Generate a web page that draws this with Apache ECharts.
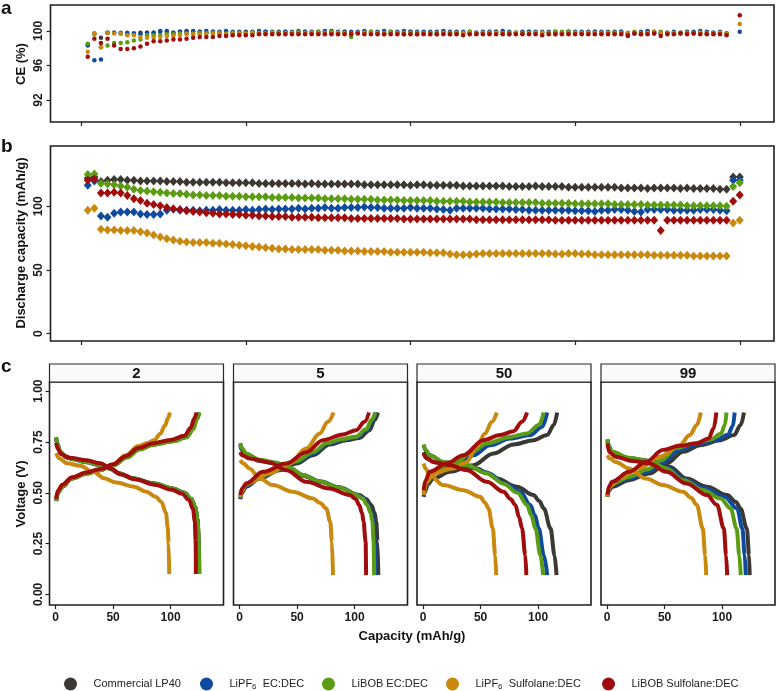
<!DOCTYPE html>
<html><head><meta charset="utf-8">
<script src="https://cdn.jsdelivr.net/npm/echarts@6/dist/echarts.min.js"></script>
<style>html,body{margin:0;padding:0;background:#fff}#c{width:778px;height:691px}</style>
</head><body><div id="c"></div>
<script>
const FONT = '"Liberation Sans", Arial, sans-serif';
const seriesNames = ['Commercial LP40', 'LiPF6 EC:DEC', 'LiBOB EC:DEC', 'LiPF6 Sulfolane:DEC', 'LiBOB Sulfolane:DEC'];
const seriesColors = ['#3b3834', '#0e4a9e', '#5c9c14', '#c9890f', '#a00d0d'];

const cycles = [1,2,3,4,5,6,7,8,9,10,11,12,13,14,15,16,17,18,19,20,21,22,23,24,25,26,27,28,29,30,31,32,33,34,35,36,37,38,39,40,41,42,43,44,45,46,47,48,49,50,51,52,53,54,55,56,57,58,59,60,61,62,63,64,65,66,67,68,69,70,71,72,73,74,75,76,77,78,79,80,81,82,83,84,85,86,87,88,89,90,91,92,93,94,95,96,97,98,99,100];

// Panel a: coulombic efficiency (%)
const ceLP40 = [98.4,99.7,99.2,99.8,99.8,99.7,99.6,99.7,99.8,99.8, 99.8,99.9,99.9,99.8,99.9,100.0,99.9,99.9,99.8,99.9, 99.8,99.9,99.8,99.8,99.9,99.8,99.8,99.9,99.8,99.8, 99.9,99.8,99.8,99.9,99.8,99.8,99.9,99.8,99.7,99.9, 99.8,99.8,99.9,99.8,99.8,99.7,99.8,99.8,99.8,99.9, 99.8,99.8,99.8,99.7,99.9,99.8,99.8,99.8,99.7,99.8, 99.8,99.8,99.9,99.8,99.7,99.8,99.8,99.9,99.8,99.8, 99.8,99.7,99.8,99.9,99.8,99.8,99.8,99.9,99.8,99.8, 99.8,99.9,99.7,99.8,99.8,99.9,99.8,99.7,99.8,99.8, 99.8,99.9,99.8,99.8,99.7,99.8,99.8,99.7,null,null];
const ceLiPF6EC = [98.3,96.6,96.7,99.8,99.8,99.8,99.8,99.7,99.6,99.8, 99.8,100.0,100.0,99.8,99.9,99.9,100.0,99.9,100.0,99.9, 99.9,100.0,99.9,99.9,99.8,99.9,100.0,99.9,99.9,99.9, 99.9,99.9,100.0,99.9,99.9,99.9,100.0,100.0,99.9,99.9, 99.9,99.9,100.0,99.9,99.9,100.0,99.9,99.9,100.0,99.9, 99.9,99.9,99.9,99.9,100.0,99.9,99.9,99.9,99.9,99.8, 99.9,99.9,99.9,100.0,99.9,99.8,99.9,99.9,99.9,99.9, 99.9,99.9,99.8,99.9,99.9,99.9,99.9,99.9,99.9,99.9, 99.9,99.9,99.4,99.7,99.9,100.0,99.9,99.7,99.8,99.9, 99.8,99.8,99.9,100.0,99.9,99.8,99.9,99.7,null,99.9];
const ceLiBOBEC = [98.5,99.6,98.1,98.3,98.6,98.6,98.7,98.9,99.0,99.5, 99.5,99.5,99.6,99.6,99.7,99.7,99.7,99.8,99.7,99.8, 99.8,99.7,99.8,99.8,99.7,99.8,99.8,99.7,99.8,99.8, 99.8,99.8,99.9,99.8,99.8,99.9,99.8,99.9,99.8,99.8, 99.3,99.8,99.8,99.9,99.8,99.8,99.9,99.8,99.8,99.8, 99.8,99.7,99.8,99.8,99.7,99.8,99.8,99.8,99.9,99.7, 99.8,99.8,99.8,99.7,99.8,99.8,99.7,99.8,99.8,99.8, 99.8,99.9,99.9,99.9,99.8,99.8,99.7,99.8,99.8,99.8, 99.8,99.8,99.8,99.9,99.8,99.7,99.7,99.9,99.8,99.8, 99.7,99.8,99.8,99.8,99.7,99.7,99.8,99.7,null,null];
const ceLiPF6Sulf = [97.6,99.7,98.1,99.8,99.7,99.7,99.5,99.5,99.3,99.2, 99.2,99.3,99.4,99.4,99.5,99.6,99.6,99.6,99.7,99.7, 99.7,99.6,99.7,99.7,99.7,99.8,99.7,99.7,99.8,99.7, 99.7,99.8,99.7,99.7,99.8,99.7,99.7,99.7,99.8,99.7, 99.7,99.8,99.8,99.7,99.7,99.6,99.7,99.7,99.6,99.7, 99.6,99.7,99.6,99.6,99.8,99.6,99.7,99.7,99.8,99.7, 99.7,99.7,99.8,99.7,99.6,99.8,99.7,99.7,99.8,99.8, 99.7,99.6,99.7,99.7,99.8,99.7,99.8,99.7,99.7,99.8, 99.7,99.7,99.7,99.8,99.6,99.8,99.9,99.7,99.7,99.7, 99.8,99.7,99.7,99.8,99.7,99.7,99.8,99.7,null,100.8];
const ceLiBOBSulf = [97.0,99.1,98.6,99.1,98.3,97.9,97.9,98.0,98.2,98.5, 98.8,98.8,98.9,99.0,99.0,99.1,99.2,99.3,99.3,99.3, 99.4,99.4,99.5,99.5,99.5,99.5,99.6,99.6,99.6,99.6, 99.6,99.6,99.6,99.6,99.6,99.6,99.6,99.6,99.6,99.6, 99.6,99.7,99.6,99.6,99.6,99.6,99.6,99.6,99.6,99.6, 99.6,99.6,99.6,99.6,99.6,99.6,99.6,99.5,99.6,99.6, 99.6,99.6,99.6,99.6,99.6,99.6,99.6,99.6,99.6,99.5, 99.6,99.6,99.6,99.6,99.6,99.6,99.6,99.6,99.6,99.6, 99.6,99.6,99.5,99.7,99.6,99.6,99.7,99.4,99.6,99.6, 99.7,99.6,99.7,99.6,99.6,99.6,99.6,99.5,null,101.8];

// Panel b: discharge capacity (mAh/g)
const capLP40 = [122,123,119.5,120.5,121,121,120.5,120.5,120,120, 120,120,119.5,119.5,119.5,119,119,119,119,119, 119,118.5,118.5,118.5,118.5,118.5,118,118,118,118, 118,118,118,117.5,118,117.5,117.5,117.5,117.5,117.5, 117.5,117.5,117,117,117,117,117,117,117,116.5, 117,117,116.5,116.5,116.5,116.5,116.5,116,116,116, 116,116,116,116,115.5,115.5,115.5,115.5,116,115.5, 115.5,115.5,115.5,115,115,115,115,115,115,115, 115,114.5,114.5,114.5,114.5,114,114.5,114.5,114.5,114.5, 114,114.5,114,114,114,114,113.5,113.5,123,123];
const capLiPF6EC = [116.5,120,92.5,91.5,94.5,95.5,95.5,95.5,94,93.5, 93.5,94,97,98,97,97,97,96.5,97,97, 97.5,97,97,97,97.5,97,97.5,98,97.5,98, 98,98,98.5,98,98.5,98.5,99,98.5,98.5,99, 99,99,99.5,99,99,98.5,98.5,98.5,98.5,99, 98.5,98.5,98.5,98,97.5,97,98.5,98.5,98.5,98.5, 98.5,98,98,98,98,97.5,97.5,97,97,97, 97,97,97,97,96.5,96.5,96.5,96,97,97, 97.5,97.5,97,96,95.5,97.5,97.5,97.5,97.5,97, 97,97,97,97.5,97.5,97.5,97,96.5,120.5,120.5];
const capLiBOBEC = [125,125.5,118,117.5,117,116,115,113.5,112.5,112, 111.5,111,110.5,110,110,109.5,109,109,108.5,108.5, 108.5,108,108,108,107.5,107.5,107.5,107.5,107,107, 107,107,106.5,106.5,106.5,106.5,106,106,106,106, 105.5,105.5,105.5,105.5,105,105,105,105,104.5,104.5, 104.5,104.5,104.5,104,104,104,104,104,103.5,103.5, 103.5,103.5,103.5,103,103,103,103,103,103,102.5, 102.5,102.5,102.5,102.5,102,102,102,102,102,102, 101.5,101.5,101.5,101.5,101.5,101,101,101,101,101, 101,100.5,100.5,100.5,100.5,100.5,100.5,100,115.5,118.5];
const capLiPF6Sulf = [97,98.5,82,81.5,81.5,81,81,81,80,79, 77.5,76,74.5,73.5,72.5,72,71.5,71.5,71.5,71, 71,70.5,70,69.5,69,68.5,68,67.5,67,66.5, 66.5,66,66,66,66,66,65.5,65.5,65.5,65, 65,65,64.5,64.5,64.5,64.5,64,64,64,64, 64,64,63.5,63.5,63.5,62.5,62,62,62,62.5, 63,63,63,63,63,63,63,63,63,63, 63,62.5,62.5,63,63,62.5,62.5,62,62,62, 62,62,62,62,62,62,61.5,61.5,61.5,61.5, 61.5,61.5,61,61,61,61,61,61,87,89];
const capLiBOBSulf = [120.5,121.5,110.5,110.5,111,110.5,108.5,106,104.5,102.5, 101.5,100.5,99,98,97.5,96.5,96,95.5,95,94.5, 94,94,93.5,93.5,93,93,92.5,92.5,92,92, 92,91.5,91.5,91.5,91.5,91,91,91,91,91, 90.5,90.5,90.5,90.5,90.5,90.5,90.5,90.5,90,90, 90,90,90,90,90,90,90,90,90,89.5, 89.5,89.5,89.5,89.5,89.5,89.5,89.5,89.5,89.5,89.5, 89.5,89,89,89,89,89,89,89,89,89, 89,89,89,89,89,89,89,81,89,89, 89,89,89,89,89,89,89,89,104,109];

// Panel c: voltage profiles, [capacity (mAh/g), voltage (V)], order = seriesNames
const facetLabels = ['2', '5', '50', '99'];
const cycle2Discharge = [
  [[0.5,0.77],[1.5,0.74],[4,0.70],[9,0.675],[15,0.665],[27,0.65],[39,0.635],[47,0.62],[55,0.595],[67,0.57],[85,0.546],[102,0.52],[112,0.50],[118,0.47],[121.5,0.43],[123.5,0.37],[124.5,0.28],[125,0.1]],
  [[0.5,0.77],[1.5,0.74],[4,0.70],[9,0.676],[15,0.666],[27,0.651],[39,0.636],[47,0.62],[55,0.596],[67,0.571],[85,0.547],[102,0.521],[112,0.50],[118,0.47],[121.3,0.43],[123.3,0.37],[124.3,0.28],[124.7,0.1]],
  [[0.5,0.775],[1.5,0.745],[4,0.702],[9,0.677],[15,0.666],[27,0.651],[39,0.636],[47,0.62],[55,0.596],[67,0.571],[85,0.547],[102,0.521],[112,0.50],[118,0.47],[121.4,0.43],[123.4,0.37],[124.4,0.28],[124.8,0.1]],
  [[0.5,0.695],[3,0.67],[10,0.645],[21,0.633],[33,0.603],[42,0.572],[53,0.55],[68,0.53],[79,0.505],[87,0.48],[92,0.455],[96,0.40],[97.5,0.33],[98.3,0.25],[98.8,0.1]],
  [[0.5,0.745],[2,0.715],[5,0.69],[12,0.672],[27,0.66],[39,0.645],[48,0.62],[57,0.59],[70,0.565],[86,0.54],[101,0.515],[110,0.495],[116,0.465],[119.5,0.42],[121,0.36],[121.8,0.26],[122,0.1]]
];
const cycle2Charge = [
  [[0.5,0.46],[2,0.50],[6,0.53],[14,0.57],[27,0.595],[39,0.612],[50,0.636],[62,0.675],[73,0.715],[85,0.738],[102,0.755],[114,0.775],[119.5,0.815],[122.5,0.862],[124.8,0.895]],
  [[0.5,0.46],[2,0.50],[6,0.53],[14,0.57],[27,0.595],[39,0.612],[50,0.636],[62,0.676],[73,0.716],[85,0.738],[102,0.755],[114,0.776],[119.5,0.816],[122.4,0.863],[124.6,0.895]],
  [[0.5,0.46],[2,0.50],[6,0.53],[14,0.57],[27,0.594],[39,0.611],[50,0.635],[62,0.674],[73,0.713],[85,0.736],[102,0.753],[114,0.773],[119.8,0.813],[122.8,0.86],[125.2,0.895]],
  [[0.5,0.47],[2,0.51],[6,0.54],[14,0.575],[27,0.60],[39,0.615],[50,0.64],[61,0.685],[72,0.73],[80,0.745],[86,0.76],[91,0.79],[95,0.83],[98,0.87],[99.4,0.895]],
  [[0.5,0.47],[2,0.51],[6,0.54],[14,0.575],[27,0.60],[39,0.617],[50,0.64],[61,0.68],[72,0.72],[84,0.743],[100,0.76],[112,0.78],[117.5,0.82],[120.5,0.865],[122.5,0.895]]
];
const cycle5Discharge = [
  [[0.6,0.734],[2,0.71],[5.8,0.685],[17.4,0.656],[31.9,0.644],[43.5,0.62],[55,0.584],[69.6,0.554],[87,0.525],[104,0.489],[110,0.47],[114.5,0.44],[117.5,0.40],[118.8,0.357],[120,0.259],[120.6,0.095]],
  [[0.6,0.74],[2,0.715],[5.8,0.69],[17.4,0.66],[31.9,0.647],[43.5,0.622],[55,0.588],[69.6,0.557],[87,0.527],[102,0.492],[108,0.472],[112,0.44],[115,0.40],[116.5,0.357],[117.5,0.259],[118,0.095]],
  [[0.6,0.745],[2,0.72],[5.8,0.692],[17.4,0.662],[31.9,0.648],[43.5,0.623],[55,0.588],[69.6,0.556],[87,0.526],[101,0.492],[107,0.472],[111,0.44],[114,0.40],[115.5,0.357],[116.5,0.259],[117,0.095]],
  [[0.6,0.661],[3,0.645],[8.7,0.62],[17.4,0.57],[29,0.538],[46.4,0.505],[63.8,0.472],[70,0.45],[75.4,0.423],[78.8,0.357],[80.3,0.259],[81.2,0.095]],
  [[0.6,0.70],[2,0.685],[8.7,0.669],[26,0.649],[40.6,0.611],[58,0.554],[78,0.521],[95.6,0.489],[101,0.47],[104,0.44],[106.5,0.40],[107.8,0.357],[109.6,0.259],[110,0.095]]
];
const cycle5Charge = [
  [[0.6,0.469],[2,0.50],[5.8,0.53],[17.4,0.57],[34.8,0.611],[49.3,0.644],[63.8,0.685],[78.3,0.738],[92.8,0.759],[104.3,0.77],[113,0.808],[117.4,0.857],[120.3,0.895]],
  [[0.6,0.47],[2,0.505],[5.8,0.535],[17.4,0.575],[34.8,0.615],[49.3,0.65],[63.8,0.692],[77,0.742],[91,0.762],[102,0.773],[111,0.81],[115.5,0.857],[118.5,0.895]],
  [[0.6,0.475],[2,0.51],[5.8,0.54],[17.4,0.58],[34.8,0.62],[49.3,0.655],[63.8,0.70],[76,0.745],[90,0.765],[101,0.776],[110,0.812],[115,0.86],[118,0.895]],
  [[0.6,0.48],[2,0.51],[5.8,0.546],[26,0.595],[43.5,0.644],[58,0.718],[69.6,0.792],[76.8,0.849],[81.7,0.895]],
  [[0.6,0.489],[2,0.52],[5.8,0.546],[20.3,0.603],[40.6,0.644],[58,0.70],[72.5,0.759],[89.9,0.787],[101.4,0.808],[108.7,0.849],[112.5,0.895]]
];
const cycle50Discharge = [
  [[0.5,0.70],[3,0.67],[10,0.65],[23.3,0.636],[46.6,0.62],[55,0.60],[64,0.57],[81.6,0.53],[96,0.489],[101,0.46],[105,0.423],[110.8,0.325],[114.3,0.193],[116,0.095]],
  [[0.5,0.735],[2,0.71],[5.8,0.685],[17.5,0.652],[37.9,0.636],[55.4,0.598],[73,0.542],[84.5,0.505],[93.3,0.44],[97,0.39],[100.6,0.325],[105,0.193],[107.9,0.095]],
  [[0.5,0.738],[2,0.712],[5.8,0.685],[17.5,0.652],[37.9,0.636],[55.4,0.595],[70,0.545],[82,0.50],[90.4,0.44],[94,0.39],[97.7,0.325],[102,0.193],[104.4,0.095]],
  [[0.5,0.644],[2,0.62],[5.8,0.587],[17.5,0.538],[35,0.513],[49.6,0.48],[54,0.45],[56.9,0.423],[60.6,0.325],[62.7,0.193],[63.6,0.095]],
  [[0.5,0.693],[3,0.67],[8.7,0.652],[23.3,0.636],[37.9,0.611],[55.4,0.554],[70,0.505],[76,0.47],[80.2,0.44],[83.5,0.38],[86,0.325],[88.9,0.193],[89.8,0.095]]
];
const cycle50Charge = [
  [[0.5,0.48],[2,0.51],[4,0.54],[8.7,0.57],[23.3,0.603],[43.7,0.636],[61.2,0.693],[78.7,0.738],[96.2,0.759],[107.9,0.784],[113.7,0.833],[116.6,0.895]],
  [[0.5,0.50],[3,0.55],[11.7,0.603],[29,0.636],[43.7,0.685],[58.3,0.734],[75.8,0.767],[93.3,0.784],[103.5,0.825],[107.9,0.895]],
  [[0.5,0.50],[3,0.555],[11.7,0.61],[29,0.652],[42,0.70],[55.4,0.743],[75.8,0.775],[90.4,0.792],[100.6,0.833],[104.9,0.895]],
  [[0.5,0.489],[3,0.55],[8.7,0.595],[26.2,0.62],[37.9,0.652],[46.6,0.726],[53.9,0.792],[59.8,0.849],[64.1,0.895]],
  [[0.5,0.513],[2,0.56],[5.8,0.603],[20.4,0.644],[35,0.685],[52.5,0.759],[67,0.784],[78.7,0.803],[86,0.849],[90.4,0.895]]
];
const cycle99Discharge = [
  [[0.3,0.755],[1.5,0.72],[4.4,0.693],[19,0.669],[39.7,0.656],[54.4,0.628],[69,0.57],[86.8,0.53],[104.4,0.489],[112,0.455],[116,0.423],[121.5,0.325],[123.5,0.193],[124,0.095]],
  [[0.3,0.762],[1.5,0.73],[4.4,0.70],[19,0.67],[37,0.656],[52,0.625],[67,0.565],[85,0.522],[102,0.48],[113,0.423],[117.6,0.325],[119.7,0.193],[120.6,0.095]],
  [[0.3,0.764],[1.5,0.73],[4.4,0.702],[19,0.672],[36.8,0.656],[51.5,0.62],[66.2,0.562],[83.8,0.513],[98.5,0.472],[107.4,0.423],[112.6,0.325],[115,0.193],[116.2,0.095]],
  [[0.3,0.685],[2,0.67],[7.4,0.652],[19,0.62],[33.8,0.57],[48.5,0.538],[66.2,0.505],[73,0.475],[78,0.44],[83.2,0.325],[85.3,0.193],[86.2,0.095]],
  [[0.3,0.743],[2,0.70],[7.4,0.677],[22,0.656],[36.8,0.644],[51.5,0.603],[69,0.546],[86.8,0.489],[95.6,0.44],[101.5,0.325],[103.5,0.193],[104.4,0.095]]
];
const cycle99Charge = [
  [[0.3,0.48],[1.5,0.51],[4.4,0.53],[19,0.562],[36.8,0.595],[51.5,0.644],[66.2,0.702],[81,0.734],[98.5,0.759],[110.3,0.784],[116.2,0.833],[119,0.895]],
  [[0.3,0.48],[1.5,0.515],[4.4,0.54],[19,0.57],[36,0.605],[48.5,0.65],[63,0.71],[78,0.738],[95,0.76],[105,0.785],[109.5,0.83],[110.9,0.895]],
  [[0.3,0.485],[1.5,0.52],[4.4,0.545],[19,0.578],[35,0.615],[47,0.66],[60,0.72],[75,0.742],[90,0.762],[99,0.79],[102.5,0.835],[103.8,0.895]],
  [[0.3,0.48],[2,0.53],[10.3,0.57],[28,0.62],[45.6,0.677],[63.2,0.734],[72,0.784],[78,0.833],[81.5,0.895]],
  [[0.3,0.49],[1.5,0.53],[4.4,0.554],[19,0.603],[33.8,0.652],[48.5,0.71],[63.2,0.731],[78,0.743],[88.2,0.767],[92.6,0.816],[95,0.895]]
];

const ceAll = [ceLP40, ceLiPF6EC, ceLiBOBEC, ceLiPF6Sulf, ceLiBOBSulf];
const capAll = [capLP40, capLiPF6EC, capLiBOBEC, capLiPF6Sulf, capLiBOBSulf];
const facetDischarge = [cycle2Discharge, cycle5Discharge, cycle50Discharge, cycle99Discharge];
const facetCharge = [cycle2Charge, cycle5Charge, cycle50Charge, cycle99Charge];

function pairs(vals) {
  const out = [];
  for (let i = 0; i < cycles.length; i++) if (vals[i] != null) out.push([cycles[i], vals[i]]);
  return out;
}

const facetLeft = [49.5, 233.5, 417, 601];
const facetW = 174;
const grids = [
  {left: 50.5, top: 5, width: 723.5, height: 117},
  {left: 50.5, top: 146, width: 723.5, height: 195}
];
facetLeft.forEach(l => grids.push({left: l, top: 382, width: facetW, height: 223}));
grids.forEach(g => { g.show = true; g.borderColor = '#1e1e1e'; g.borderWidth = 1.6; g.backgroundColor = 'rgba(0,0,0,0)'; g.containLabel = false; });

const tickStyle = {show: true, inside: false, length: 4, lineStyle: {color: '#222', width: 1.2}};
const labelFont = {fontFamily: FONT, fontWeight: 'bold', fontSize: 12, color: '#1a1a1a'};
const noLine = {show: false, onZero: false};

const xAxes = [];
const yAxes = [];
[0, 1].forEach(i => {
  xAxes.push({type: 'value', gridIndex: i, min: -4.66, max: 105.2,
    axisLine: noLine, splitLine: {show: false},
    axisTick: Object.assign({customValues: [0, 25, 50, 75, 100]}, tickStyle),
    axisLabel: {show: false}});
});
yAxes.push({type: 'value', gridIndex: 0, min: 89.45, max: 103.0,
  axisLine: noLine, splitLine: {show: false},
  axisTick: Object.assign({customValues: [92, 96, 100]}, tickStyle),
  axisLabel: Object.assign({customValues: [92, 96, 100], rotate: 90, margin: 6}, labelFont)});
yAxes.push({type: 'value', gridIndex: 1, min: -5.8, max: 147.4,
  axisLine: noLine, splitLine: {show: false},
  axisTick: Object.assign({customValues: [0, 50, 100]}, tickStyle),
  axisLabel: Object.assign({customValues: [0, 50, 100], rotate: 90, margin: 6}, labelFont)});
facetLeft.forEach((l, k) => {
  xAxes.push({type: 'value', gridIndex: 2 + k, min: -5.3, max: 146,
    axisLine: noLine, splitLine: {show: false},
    axisTick: Object.assign({customValues: [0, 50, 100]}, tickStyle),
    axisLabel: Object.assign({customValues: [0, 50, 100], margin: 7}, labelFont)});
  yAxes.push({type: 'value', gridIndex: 2 + k, min: -0.052, max: 1.045,
    axisLine: noLine, splitLine: {show: false},
    axisTick: Object.assign({customValues: [0, 0.25, 0.5, 0.75, 1]}, tickStyle, {show: k === 0}),
    axisLabel: Object.assign({customValues: [0, 0.25, 0.5, 0.75, 1], rotate: 90, margin: 5, show: k === 0,
      formatter: v => v.toFixed(2)}, labelFont)});
});

const series = [];
seriesNames.forEach((name, s) => {
  series.push({type: 'scatter', name, xAxisIndex: 0, yAxisIndex: 0, data: pairs(ceAll[s]),
    symbol: 'circle', symbolSize: 4.5, itemStyle: {color: seriesColors[s], opacity: 1}, z: 2 + s});
});
seriesNames.forEach((name, s) => {
  series.push({type: 'scatter', name, xAxisIndex: 1, yAxisIndex: 1, data: pairs(capAll[s]),
    symbol: 'diamond', symbolSize: [8, 9], itemStyle: {color: seriesColors[s], opacity: 1}, z: 2 + s});
});
for (let k = 0; k < 4; k++) {
  seriesNames.forEach((name, s) => {
    [facetDischarge[k][s], facetCharge[k][s]].forEach(curve => {
      series.push({type: 'line', name, xAxisIndex: 2 + k, yAxisIndex: 2 + k, data: curve,
        showSymbol: false, symbol: 'none', smooth: 0.35, smoothMonotone: 'x',
        lineStyle: {color: seriesColors[s], width: 4}, itemStyle: {color: seriesColors[s], opacity: 1}, z: 2 + s});
    });
  });
}

const legendCx = [70, 206, 328, 452, 608];
const legends = seriesNames.map((name, s) => ({
  data: [{name, icon: 'circle', itemStyle: {color: seriesColors[s], opacity: 1}}],
  left: legendCx[s] - 11, top: 672.5, itemWidth: 36, itemHeight: 13, selectedMode: false,
  formatter: n => n.replace('LiPF6 ', 'LiPF{s|6}  '),
  textStyle: {fontFamily: FONT, fontSize: 11, color: '#222',
    rich: {s: {fontFamily: FONT, fontSize: 8, color: '#222', padding: [5, 0, 0, 0]}}}
}));

const titleStyle = {fontFamily: FONT, fontWeight: 'bold', fontSize: 13, fill: '#111'};
const graphics = [
  {type: 'text', left: 1, top: -1, style: {text: 'a', font: 'bold 19px ' + FONT, fill: '#111'}},
  {type: 'text', left: 1, top: 137, style: {text: 'b', font: 'bold 19px ' + FONT, fill: '#111'}},
  {type: 'text', left: 1, top: 357, style: {text: 'c', font: 'bold 19px ' + FONT, fill: '#111'}},
  {type: 'text', x: 21, y: 64, rotation: Math.PI / 2, style: Object.assign({text: 'CE (%)', align: 'center', verticalAlign: 'middle'}, titleStyle)},
  {type: 'text', x: 21, y: 243, rotation: Math.PI / 2, style: Object.assign({text: 'Discharge capacity (mAh/g)', align: 'center', verticalAlign: 'middle'}, titleStyle)},
  {type: 'text', x: 21, y: 494, rotation: Math.PI / 2, style: Object.assign({text: 'Voltage (V)', align: 'center', verticalAlign: 'middle'}, titleStyle)},
  {type: 'text', x: 412, y: 636, style: Object.assign({text: 'Capacity (mAh/g)', align: 'center', verticalAlign: 'middle'}, titleStyle)}
];
facetLeft.forEach((l, k) => {
  graphics.push({type: 'rect', shape: {x: l, y: 364, width: facetW, height: 18},
    style: {fill: '#fafafa', stroke: '#2a2a2a', lineWidth: 1.2}, z: 10});
  graphics.push({type: 'text', x: l + facetW / 2, y: 373.5, z: 11,
    style: {text: facetLabels[k], align: 'center', verticalAlign: 'middle', font: 'bold 15px ' + FONT, fill: '#111'}});
});

const chart = echarts.init(document.getElementById('c'), null, {renderer: 'canvas'});
chart.setOption({
  animation: false,
  backgroundColor: '#ffffff',
  grid: grids, xAxis: xAxes, yAxis: yAxes, series, legend: legends, graphic: graphics
});
</script></body></html>
